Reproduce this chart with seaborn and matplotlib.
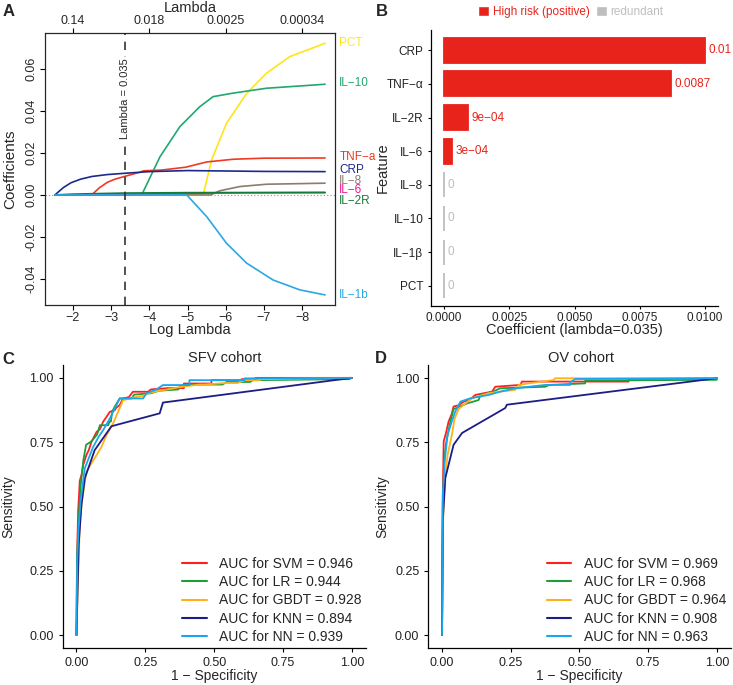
import numpy as np
import pandas as pd
import matplotlib
matplotlib.use("Agg")
import matplotlib.pyplot as plt
import matplotlib.transforms as mtransforms
from matplotlib.lines import Line2D
from matplotlib.patches import Patch
import seaborn as sns

# ---------------- Panel A: lasso paths (log lambda, coefficient) ----------------
path_pct = [(-1.53, 0), (-5.41, 0), (-5.63, 0.0167), (-6.02, 0.0341), (-6.55, 0.0484),
            (-7.07, 0.058), (-7.68, 0.0659), (-8.6, 0.0722)]
path_il10 = [(-1.53, 0), (-3.80, 0), (-4.28, 0.0182), (-4.8, 0.0325), (-5.32, 0.042),
             (-5.67, 0.0468), (-6.2, 0.0485), (-7.07, 0.0508), (-8.6, 0.0527)]
path_tnf = [(-1.53, 0), (-2.49, 0), (-2.7, 0.0035), (-2.9, 0.006), (-3.1, 0.0075),
            (-3.35, 0.0088), (-3.75, 0.0108), (-3.85, 0.0115), (-4.3, 0.0118),
            (-4.95, 0.0132), (-5.5, 0.0157), (-6.2, 0.0170), (-7.0, 0.0175), (-8.6, 0.0176)]
path_crp = [(-1.53, 0), (-1.75, 0.0035), (-1.95, 0.0058), (-2.2, 0.0075), (-2.5, 0.0088),
            (-2.9, 0.0097), (-3.35, 0.0103), (-4.0, 0.0111), (-5.0, 0.0116),
            (-6.0, 0.0114), (-7.0, 0.0112), (-8.6, 0.0111)]
path_il8 = [(-1.53, 0), (-5.6, 0), (-5.85, 0.002), (-6.37, 0.004), (-7.07, 0.0051), (-8.6, 0.0056)]
path_il6 = [(-1.53, 0), (-2.2, 0), (-3.35, 0.0003), (-5.0, 0.0008), (-6.5, 0.001), (-8.6, 0.0011)]
path_il2r = [(-1.53, 0), (-2.0, 0.0004), (-3.35, 0.0009), (-5.0, 0.0011), (-8.6, 0.0012)]
path_il1b = [(-1.53, 0), (-4.98, 0), (-5.5, -0.0103), (-6.02, -0.023), (-6.55, -0.0325),
             (-7.24, -0.0405), (-7.94, -0.0452), (-8.6, -0.0476)]

lasso_names = ["PCT", "IL−10", "TNF−a", "CRP", "IL−8", "IL−6", "IL−2R", "IL−1b"]
lasso_colors = ["#FFE41A", "#1FA870", "#F03A22", "#1C2A8C", "#8C7C6C", "#E8198C", "#187A38", "#2AA8E2"]
lasso_label_y = [0.0724, 0.0533, 0.0181, 0.0119, 0.0067, 0.0024, -0.0029, -0.0476]
best_lambda = 0.035

# ---------------- Panel B: coefficients at lambda = 0.035 ----------------
b_features = ["CRP", "TNF−α", "IL−2R", "IL−6", "IL−8", "IL−10", "IL−1β", "PCT"]
b_coefs = [0.0100, 0.0087, 0.0009, 0.0003, 0, 0, 0, 0]
b_labels = ["0.01", "0.0087", "9e−04", "3e−04", "0", "0", "0", "0"]
b_groups = ["High risk (positive)"] * 4 + ["redundant"] * 4

# ---------------- Panels C/D: ROC curves (1 - specificity, sensitivity) ----------------
models = ["SVM", "LR", "GBDT", "KNN", "NN"]
model_colors = ["#FF1F1F", "#1E9E3A", "#FFB11A", "#1C1C86", "#1AA5F0"]
auc_sfv = [0.946, 0.944, 0.928, 0.894, 0.939]
auc_ov = [0.969, 0.968, 0.964, 0.908, 0.963]

sfv_svm = [(0, 0), (0.002, 0.3), (0.006, 0.48), (0.012, 0.6), (0.02, 0.63), (0.024, 0.66),
           (0.036, 0.70), (0.045, 0.72), (0.054, 0.75), (0.073, 0.79), (0.085, 0.80),
           (0.097, 0.83), (0.11, 0.85), (0.121, 0.868), (0.139, 0.874), (0.145, 0.885),
           (0.157, 0.894), (0.169, 0.92), (0.19, 0.925), (0.205, 0.946), (0.26, 0.946),
           (0.27, 0.955), (0.33, 0.96), (0.39, 0.96), (0.39, 0.978), (0.49, 0.978),
           (0.49, 0.991), (0.6, 0.991), (0.6, 0.995), (0.65, 0.995), (0.65, 1.0), (1.0, 1.0)]
sfv_lr = [(0, 0), (0.002, 0.3), (0.008, 0.45), (0.015, 0.58), (0.025, 0.68), (0.035, 0.74),
          (0.05, 0.75), (0.06, 0.76), (0.075, 0.78), (0.085, 0.816), (0.115, 0.816),
          (0.12, 0.83), (0.125, 0.83), (0.13, 0.87), (0.14, 0.89), (0.157, 0.92), (0.2, 0.92),
          (0.21, 0.935), (0.27, 0.94), (0.3, 0.95), (0.37, 0.955), (0.376, 0.967),
          (0.39, 0.974), (0.53, 0.974), (0.545, 0.984), (0.63, 0.984), (0.64, 0.991),
          (0.99, 0.995), (1.0, 1.0)]
sfv_gbdt = [(0, 0), (0.005, 0.2), (0.012, 0.43), (0.02, 0.52), (0.036, 0.635), (0.05, 0.66),
            (0.073, 0.70), (0.09, 0.73), (0.109, 0.777), (0.133, 0.823), (0.151, 0.868),
            (0.169, 0.913), (0.218, 0.926), (0.24, 0.93), (0.26, 0.94), (0.3, 0.95),
            (0.33, 0.955), (0.38, 0.965), (0.447, 0.974), (0.466, 0.974), (0.54, 0.98),
            (0.585, 0.98), (0.61, 0.991), (0.665, 0.991), (0.67, 0.995), (1.0, 1.0)]
sfv_knn = [(0, 0), (0.008, 0.35), (0.018, 0.505), (0.03, 0.609), (0.066, 0.719),
           (0.127, 0.812), (0.302, 0.862), (0.314, 0.904), (1.0, 1.0)]
sfv_nn = [(0, 0), (0.003, 0.3), (0.008, 0.42), (0.015, 0.52), (0.03, 0.648), (0.06, 0.73),
          (0.08, 0.77), (0.097, 0.797), (0.12, 0.84), (0.139, 0.881), (0.157, 0.92),
          (0.242, 0.92), (0.254, 0.94), (0.29, 0.955), (0.314, 0.972), (0.41, 0.972),
          (0.41, 0.991), (0.61, 0.991), (0.61, 0.998), (1.0, 1.0)]

ov_svm = [(0, 0), (0.002, 0.5), (0.006, 0.754), (0.015, 0.79), (0.024, 0.832), (0.035, 0.86),
          (0.042, 0.89), (0.06, 0.895), (0.079, 0.909), (0.1, 0.915), (0.121, 0.935),
          (0.182, 0.948), (0.194, 0.967), (0.285, 0.974), (0.291, 0.987), (0.679, 0.987),
          (0.68, 0.997), (1.0, 1.0)]
ov_lr = [(0, 0), (0.003, 0.5), (0.008, 0.68), (0.015, 0.75), (0.03, 0.83), (0.042, 0.88),
         (0.091, 0.902), (0.133, 0.915), (0.14, 0.935), (0.18, 0.945), (0.212, 0.961),
         (0.376, 0.967), (0.39, 0.974), (0.521, 0.98), (0.521, 0.991), (1.0, 0.994), (1.0, 1.0)]
ov_gbdt = [(0, 0), (0.004, 0.45), (0.01, 0.6), (0.02, 0.7), (0.036, 0.78), (0.045, 0.84),
           (0.06, 0.88), (0.109, 0.922), (0.17, 0.942), (0.267, 0.955), (0.279, 0.974),
           (0.321, 0.981), (0.406, 0.993), (0.412, 1.0), (1.0, 1.0)]
ov_knn = [(0, 0), (0.003, 0.45), (0.012, 0.612), (0.042, 0.741), (0.073, 0.787),
          (0.23, 0.884), (0.236, 0.897), (1.0, 1.0)]
ov_nn = [(0, 0), (0.003, 0.55), (0.01, 0.68), (0.02, 0.78), (0.035, 0.83), (0.048, 0.87),
         (0.067, 0.909), (0.103, 0.922), (0.17, 0.935), (0.212, 0.948), (0.267, 0.961),
         (0.376, 0.974), (0.467, 0.974), (0.467, 0.985), (0.485, 0.997), (1.0, 1.0)]

sfv_curves = [sfv_svm, sfv_lr, sfv_gbdt, sfv_knn, sfv_nn]
ov_curves = [ov_svm, ov_lr, ov_gbdt, ov_knn, ov_nn]

# ---------------- style ----------------
sns.set_style("ticks")
plt.rcParams["font.family"] = ["Liberation Sans", "DejaVu Sans"]
plt.rcParams["axes.unicode_minus"] = True

W, H = 733, 685
fig = plt.figure(figsize=(W / 100, H / 100), dpi=100)


def box(left, top, right, bottom):
    return [left / W, 1 - bottom / H, (right - left) / W, (bottom - top) / H]


def long_frame(curves, names, xcol, ycol):
    rows = []
    for nm, pts in zip(names, curves):
        for x, y in pts:
            rows.append((nm, x, y))
    return pd.DataFrame(rows, columns=["name", xcol, ycol])


# ---------------- A ----------------
ax_a = fig.add_axes(box(45, 33, 335, 305))
df_a = long_frame([path_pct, path_il10, path_tnf, path_crp, path_il8, path_il6, path_il2r, path_il1b],
                  lasso_names, "loglam", "coef")
ax_a.axhline(0, color="#A0A0A0", ls=":", lw=0.9, zorder=0)
sns.lineplot(data=df_a, x="loglam", y="coef", hue="name", palette=dict(zip(lasso_names, lasso_colors)),
             estimator=None, sort=False, legend=False, lw=1.2, ax=ax_a)
ax_a.axvline(np.log(best_lambda), color="#333333", ls=(0, (5, 4)), lw=1.2)
ax_a.text(np.log(best_lambda), 0.046, "Lambda = 0.035", rotation=90, ha="center", va="center",
          fontsize=8, bbox=dict(facecolor="white", edgecolor="none", pad=1.0))
ax_a.set_xlim(-1.27, -8.86)
ax_a.set_ylim(-0.0524, 0.0771)
ax_a.set_xticks(np.arange(-2, -9, -1))
ax_a.set_yticks([-0.04, -0.02, 0, 0.02, 0.04, 0.06])
ax_a.set_yticklabels(["%.2f" % v for v in [-0.04, -0.02, 0, 0.02, 0.04, 0.06]],
                     rotation=90, va="center")
ax_a.tick_params(labelsize=9, length=3.6, width=0.8, color="black", direction="out", pad=1.5)
for s in ax_a.spines.values():
    s.set_visible(True)
    s.set_linewidth(0.8)
    s.set_color("black")
ax_a.set_xlabel("Log Lambda", fontsize=10.5)
ax_a.set_ylabel("Coefficients", fontsize=11)
ax_a.xaxis.set_label_coords(0.5, -0.066)
ax_a.yaxis.set_label_coords(-0.097, 0.5)
ax_t = ax_a.twiny()
ax_t.set_xlim(ax_a.get_xlim())
top_ticks = [-2, -4, -6, -8]
ax_t.set_xticks(top_ticks)
ax_t.set_xticklabels(["%.2g" % np.exp(v) for v in top_ticks])
ax_t.tick_params(labelsize=9, length=3.6, width=0.8, color="black", pad=1.0)
ax_t.set_xlabel("Lambda", fontsize=10.5)
ax_t.xaxis.set_label_coords(0.5, 1.077)
ax_t.grid(False)
trans = mtransforms.blended_transform_factory(ax_a.transAxes, ax_a.transData)
for nm, col, yy in zip(lasso_names, lasso_colors, lasso_label_y):
    ax_a.text(1.015, yy, nm, transform=trans, color=col, fontsize=8.5, va="center", ha="left")

# ---------------- B ----------------
red, grey = "#E8231B", "#BEBEBE"
ax_b = fig.add_axes(box(431, 30, 718, 306))
df_b = pd.DataFrame({"Feature": b_features, "coef": b_coefs, "group": b_groups})
sns.barplot(data=df_b, x="coef", y="Feature", hue="group", palette={b_groups[0]: red, "redundant": grey},
            dodge=False, width=0.75, saturation=1, legend=False, ax=ax_b)
for p in ax_b.patches:
    p.set_edgecolor(p.get_facecolor())
    p.set_linewidth(1.3)
for i, (v, lab, g) in enumerate(zip(b_coefs, b_labels, b_groups)):
    ax_b.text(v + 0.00015, i, lab, va="center", ha="left", fontsize=8.5,
              color=red if g != "redundant" else grey)
ax_b.set_xlim(-0.0005, 0.0105)
ax_b.set_ylim(7.6, -0.6)
ax_b.set_xticks([0, 0.0025, 0.005, 0.0075, 0.01])
ax_b.set_xticklabels(["%.4f" % v for v in [0, 0.0025, 0.005, 0.0075, 0.01]])
sns.despine(ax=ax_b)
for s in ["left", "bottom"]:
    ax_b.spines[s].set_linewidth(0.9)
    ax_b.spines[s].set_color("black")
ax_b.tick_params(labelsize=8.5, length=2.5, width=0.8, color="black", labelcolor="#222222", pad=1.5)
ax_b.tick_params(axis="y", labelsize=8.5, pad=3)
ax_b.set_xlabel("Coefficient (lambda=0.035)", fontsize=10.5)
ax_b.set_ylabel("Feature", fontsize=10.5)
ax_b.xaxis.set_label_coords(0.5, -0.063)
ax_b.yaxis.set_label_coords(-0.145, 0.5)
fig.legend(handles=[Patch(facecolor=red), Patch(facecolor=grey)],
           labels=["High risk (positive)", "redundant"], loc="center",
           bbox_to_anchor=(571 / W, 1 - 12 / H), ncol=2, frameon=False, fontsize=8.5,
           handlelength=0.9, handleheight=0.9, handletextpad=0.3, columnspacing=0.6,
           labelcolor=[red, grey])

# ---------------- C / D ----------------
def roc_panel(rect, curves, aucs, title, title_x, ylab_x):
    ax = fig.add_axes(rect)
    df = long_frame(curves, models, "fpr", "tpr")
    sns.lineplot(data=df, x="fpr", y="tpr", hue="name", palette=dict(zip(models, model_colors)),
                 estimator=None, sort=False, legend=False, lw=1.3, ax=ax)
    ax.set_xlim(-0.05, 1.05)
    ax.set_ylim(-0.05, 1.05)
    ticks = [0, 0.25, 0.5, 0.75, 1.0]
    ax.set_xticks(ticks)
    ax.set_yticks(ticks)
    ax.set_xticklabels(["%.2f" % t for t in ticks])
    ax.set_yticklabels(["%.2f" % t for t in ticks])
    sns.despine(ax=ax)
    for s in ["left", "bottom"]:
        ax.spines[s].set_linewidth(0.9)
        ax.spines[s].set_color("black")
    ax.tick_params(labelsize=9, length=3, width=0.8, color="black", labelcolor="#222222")
    ax.set_xlabel("1 − Specificity", fontsize=10)
    ax.set_ylabel("Sensitivity", fontsize=10)
    ax.xaxis.set_label_coords(0.5, -0.074)
    ax.yaxis.set_label_coords(ylab_x, 0.5)
    ax.set_title(title, fontsize=10.5, x=title_x, pad=1)
    handles = [Line2D([], [], color=c, lw=1.5) for c in model_colors]
    labels = ["AUC for %s = %.3f" % (m, a) for m, a in zip(models, aucs)]
    ax.legend(handles, labels, loc="lower right", bbox_to_anchor=(1.0, 0.0), frameon=False,
              fontsize=10, handlelength=1.75, handletextpad=0.9, labelspacing=0.3,
              borderaxespad=0.0, borderpad=0.3)
    return ax


roc_panel(box(62.7, 365, 365.7, 648), sfv_curves, auc_sfv, "SFV cohort", 0.536, -0.157)
roc_panel(box(428.3, 365.4, 730.5, 648), ov_curves, auc_ov, "OV cohort", 0.505, -0.129)

# panel letters
for letter, x, y in [("A", 9, 12), ("B", 382, 12), ("C", 8, 360), ("D", 381, 358)]:
    fig.text(x / W, 1 - y / H, letter, fontsize=12, fontweight="bold", ha="center", va="center")

fig.savefig("out.png", dpi=100)
